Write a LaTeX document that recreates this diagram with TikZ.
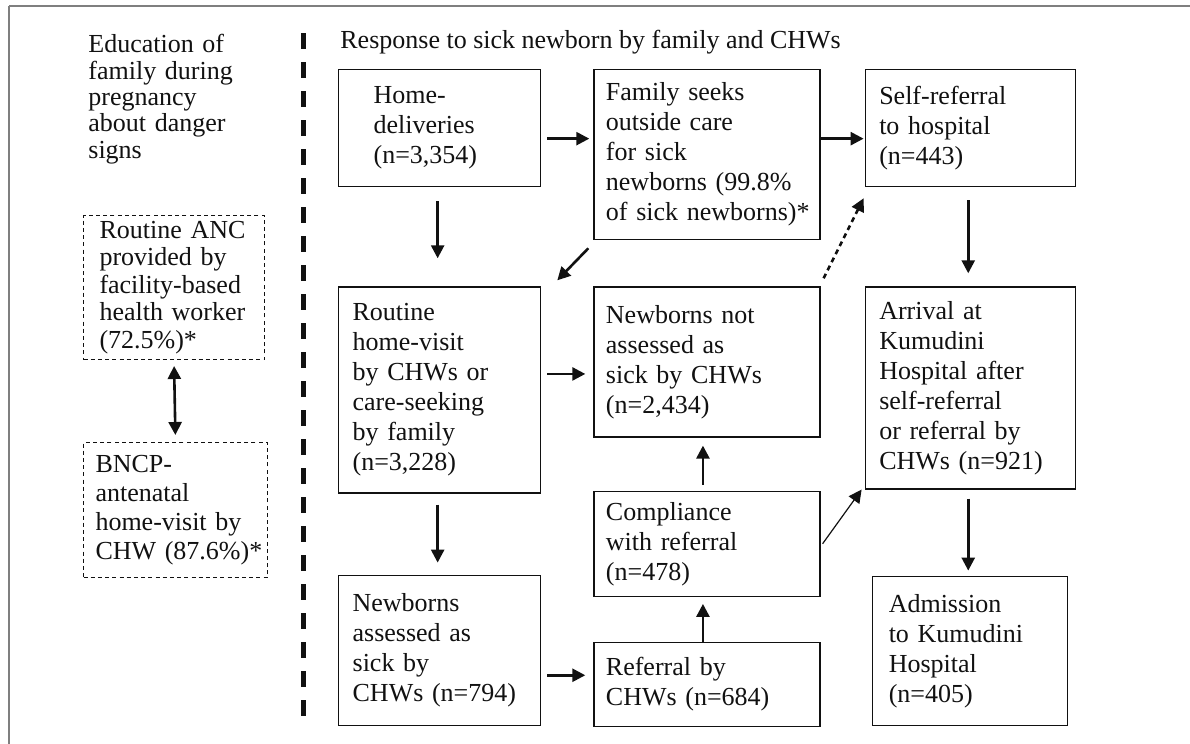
\documentclass[tikz,border=0pt]{standalone}
\usepackage{fontspec}
\setmainfont{Liberation Serif}
\usepackage{xcolor}
\definecolor{Ink}{HTML}{111111}
\definecolor{Rule}{HTML}{7F7F7F}
\usepackage{tikz}
\usetikzlibrary{arrows.meta,positioning,calc}
\newcommand{\nobreakwords}{\hyphenpenalty=10000\relax}
\tikzset{
  stage/.style={draw=Ink,line width=0.65pt,align=left,inner ysep=0pt,inner xsep=7pt,
    font=\fontsize{13}{15}\selectfont,text=Ink,execute at begin node=\nobreakwords},
  colA/.style={stage,text width=87pt},
  colB/.style={stage,text width=101pt,inner xsep=6pt},
  colC/.style={stage,text width=91pt},
  prenatal/.style={stage,dashed,dash pattern=on 2pt off 1.6pt,line width=0.5pt},
  arrow/.style={-{Triangle[length=6.5pt,width=6.5pt]},line width=1.3pt,color=Ink},
  dottedarrow/.style={arrow,dash pattern=on 2.5pt off 2pt},
  thinarrow/.style={arrow,line width=0.6pt},
  twoway/.style={{Triangle[length=6.5pt,width=6.5pt]}-{Triangle[length=6.5pt,width=6.5pt]},
    line width=1.3pt,color=Ink},
  heading/.style={font=\fontsize{13}{15}\selectfont,text=Ink,inner sep=0pt}
}

\begin{document}
\begin{tikzpicture}[x=0.5pt,y=-0.5pt]
  \useasboundingbox (0,0) rectangle (1190,744);
  % panel frame
  \draw[Rule,line width=1pt] (1190,6) -- (9,6);
  \draw[Rule,line width=0.7pt] (9,6) -- (9,744);

  % education during pregnancy
  \node[heading,text width=80pt,align=left,anchor=north west,font=\fontsize{13}{13.2}\selectfont]
    (edu) at (88,34) {Education of\\family during\\pregnancy\\about danger\\signs};
  \node[prenatal,text width=74.5pt,inner xsep=8pt,minimum height=72pt,anchor=north west,
    font=\fontsize{13}{13.75}\selectfont] (anc) at (83,215)
    {Routine~ANC\\provided~by\\facility-based\\health~worker\\(72.5\%)*};
  \node[prenatal,text width=80pt,inner xsep=6pt,minimum height=67.5pt,anchor=north west,
    font=\fontsize{13}{14.5}\selectfont] (bncp) at (83,442)
    {BNCP-\\antenatal\\home-visit~by\\CHW~(87.6\%)*};
  \draw[twoway,shorten <=3pt,shorten >=3.5pt] (anc.south) -- (bncp.north);

  \coordinate (septop) at (303,33);
  \coordinate (sepbot) at (303,720);
  \draw[Ink,line width=2.5pt,dash pattern=on 8pt off 6.5pt] (septop) -- (sepbot);

  % response to sick newborn
  \node[heading,anchor=base west] (resp) at (340,48) {Response to sick newborn by family and CHWs};

  \node[colA,minimum height=58.5pt,inner xsep=17.5pt,text width=66pt,anchor=north west]
    (home) at (338,69) {Home-\\deliveries\\(n=3,354)};
  \node[colB,minimum height=85pt,right=26pt of home.north east,anchor=north west]
    (seeks) {Family~seeks\\outside~care\\for~sick\\newborns~(99.8\%\\of~sick~newborns)*};
  \node[colC,minimum height=58.5pt,right=22pt of seeks.north east,anchor=north west]
    (self) {Self-referral\\to~hospital\\(n=443)};
  \node[colA,minimum height=103pt,below=49.5pt of home.south west,anchor=north west]
    (routine) {Routine\\home-visit\\by~CHWs~or\\care-seeking\\by~family\\(n=3,228)};
  \node[colB,minimum height=75pt,right=26pt of routine.north east,anchor=north west]
    (notass) {Newborns~not\\assessed~as\\sick~by~CHWs\\(n=2,434)};
  \node[colC,minimum height=101pt,below=49.5pt of self.south west,anchor=north west]
    (arrival) {Arrival~at\\Kumudini\\Hospital~after\\self-referral\\or~referral~by\\CHWs~(n=921)};
  \node[colA,minimum height=75pt,below=40.5pt of routine.south west,anchor=north west]
    (assessed) {Newborns\\assessed~as\\sick~by\\CHWs~(n=794)};
  \node[colB,minimum height=52.5pt,below=26.5pt of notass.south west,anchor=north west]
    (comply) {Compliance\\with~referral\\(n=478)};
  \node[colB,minimum height=42pt,below=22.5pt of comply.south west,anchor=north west]
    (referral) {Referral~by\\CHWs~(n=684)};
  \node[colC,minimum height=74.5pt,text width=81.5pt,inner xsep=8pt,below=43pt of arrival.south,
    anchor=north] (admit) {Admission\\to~Kumudini\\Hospital\\(n=405)};

  \draw[arrow] ($(home.east)+(6,10.5)$) -- ($(home.east -| seeks.west)+(-4,10.5)$);
  \draw[arrow] ($(seeks.east |- self.west)+(0,10.5)$) -- ($(self.west)+(-1,10.5)$);
  \draw[arrow] ($(home.south)+(-2,14)$) -- ($(routine.north)+(-2,-28)$);
  \draw[arrow] ($(seeks.south west)+(-5,8)$) -- ($(routine.north east)+(16,-6)$);
  \draw[dottedarrow] ($(notass.north east)+(3,-8)$) -- ($(self.south west)+(-1,11)$);
  \draw[arrow] ($(self.south)+(-2,13)$) -- ($(arrival.north)+(-2,-13)$);
  \draw[arrow] ($(routine.east)+(6,-16)$) -- ($(routine.east -| notass.west)+(-8,-16)$);
  \draw[arrow] ($(routine.south)+(-2,11)$) -- ($(assessed.north)+(-2,-12)$);
  \draw[arrow] ($(comply.north)+(-4,-6)$) -- ($(notass.south)+(-4,8)$);
  \draw[arrow] ($(arrival.south)+(-2,9)$) -- ($(admit.north)+(-2,-5)$);
  \draw[thinarrow] ($(comply.east)+(2,0)$) -- ($(arrival.south west)+(-3,0)$);
  \draw[arrow] ($(assessed.east)+(6,25)$) -- ($(assessed.east -| referral.west)+(-8,25)$);
  \draw[arrow] ($(referral.north)+(-4,0)$) -- ($(comply.south)+(-4,7)$);
\end{tikzpicture}
\end{document}
